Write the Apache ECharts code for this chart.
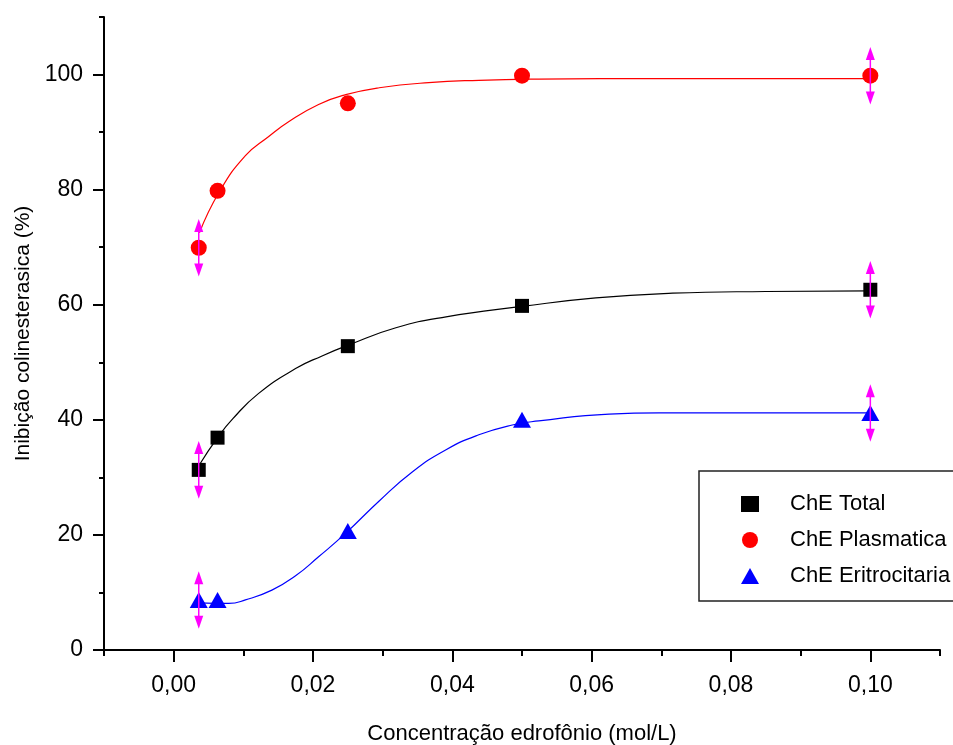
<!DOCTYPE html>
<html>
<head>
<meta charset="utf-8">
<script src="https://cdn.jsdelivr.net/npm/echarts@6/dist/echarts.min.js"></script>
<style>html,body{margin:0;padding:0;background:#fff;}#c{width:953px;height:745px;}</style>
</head>
<body>
<div id="c"></div>
<script>
// Measured points
const xData = [0.0036, 0.0063, 0.025, 0.05, 0.1];
const totalY = [31.3, 36.9, 52.8, 59.8, 62.6];
const plasmaY = [69.9, 79.8, 95.0, 99.8, 99.8];
const eritroY = [8.7, 8.7, 20.7, 40.0, 41.2];
// Error bar half-widths (null = no bar)
const totalErr = [5, null, null, null, 5];
const plasmaErr = [5, null, null, null, 5];
const eritroErr = [5, null, null, null, 5];
// Fitted curves
const totalFitX = [0.0037, 0.0063, 0.0085, 0.0122, 0.0175, 0.0213, 0.0251, 0.0319, 0.0391, 0.05, 0.0606, 0.0716, 0.085, 0.1];
const totalFitY = [32.2, 36.9, 40.2, 44.6, 48.9, 51.1, 53.0, 56.0, 57.9, 59.7, 61.2, 62.0, 62.3, 62.4];
const plasmaFitX = [0.0037, 0.0065, 0.0103, 0.0136, 0.0165, 0.0208, 0.0247, 0.0295, 0.0366, 0.0438, 0.0524, 0.07, 0.1];
const plasmaFitY = [72.5, 79.5, 85.9, 89.2, 91.8, 94.8, 96.5, 97.7, 98.6, 99.0, 99.2, 99.3, 99.3];
const eritroFitX = [0.0037, 0.0079, 0.0103, 0.0141, 0.0175, 0.0208, 0.0247, 0.0295, 0.0342, 0.0391, 0.0438, 0.0486, 0.0524, 0.0625, 0.0697, 0.1];
const eritroFitY = [8.2, 8.1, 8.7, 10.4, 12.9, 16.2, 20.3, 25.9, 30.9, 34.8, 37.4, 39.1, 39.8, 41.0, 41.2, 41.2];
// Axis ticks
const xMajorTicks = [0, 0.02, 0.04, 0.06, 0.08, 0.1];
const xMinorTicks = [-0.01, 0.01, 0.03, 0.05, 0.07, 0.09, 0.11];
const yMajorTicks = [0, 20, 40, 60, 80, 100];
const yMinorTicks = [10, 30, 50, 70, 90, 110];
const seriesNames = ['ChE Total', 'ChE Plasmatica', 'ChE Eritrocitaria'];

const FONT = '"Liberation Sans", Arial, sans-serif';
const zip = (xs, ys) => xs.map((x, i) => [x, ys[i]]);
const errData = [];
[[totalY, totalErr], [plasmaY, plasmaErr], [eritroY, eritroErr]].forEach(([ys, es]) => {
  ys.forEach((y, i) => { if (es[i] != null) errData.push([xData[i], y, es[i]]); });
});

function renderErr(params, api) {
  const x = api.value(0), y = api.value(1), e = api.value(2);
  const top = api.coord([x, y + e]);
  const bot = api.coord([x, y - e]);
  const L = 13, W = 4.5;
  const c = '#FF00FF';
  return {
    type: 'group',
    children: [
      { type: 'line', shape: { x1: top[0], y1: top[1] + 6, x2: bot[0], y2: bot[1] - 6 }, style: { stroke: c, lineWidth: 1.5 } },
      { type: 'polygon', shape: { points: [[top[0], top[1]], [top[0] - W, top[1] + L], [top[0] + W, top[1] + L]] }, style: { fill: c } },
      { type: 'polygon', shape: { points: [[bot[0], bot[1]], [bot[0] - W, bot[1] - L], [bot[0] + W, bot[1] - L]] }, style: { fill: c } }
    ]
  };
}

const chart = echarts.init(document.getElementById('c'), null, { renderer: 'canvas' });
const lbl = v => v.toFixed(2).replace('.', ',');
chart.setOption({
  animation: false,
  backgroundColor: '#fff',
  grid: { left: 104, right: 13, top: 17, bottom: 95, containLabel: false, outerBoundsMode: 'none' },
  xAxis: [{
    type: 'value', min: -0.01, max: 0.11, interval: 0.01,
    name: 'Concentração edrofônio (mol/L)', nameLocation: 'middle', nameGap: 73,
    nameTextStyle: { fontFamily: FONT, fontSize: 22, color: '#000' },
    axisLine: { show: true, onZero: false, lineStyle: { color: '#000', width: 2 } },
    axisTick: { show: true, customValues: xMajorTicks, length: 12, lineStyle: { color: '#000', width: 2 } },
    axisLabel: { customValues: xMajorTicks, formatter: lbl, fontFamily: FONT, fontSize: 23, color: '#000', margin: 24 },
    splitLine: { show: false }
  }, {
    type: 'value', min: -0.01, max: 0.11, interval: 0.01, position: 'bottom',
    axisLine: { show: false, onZero: false },
    axisTick: { show: true, customValues: xMinorTicks, length: 6, lineStyle: { color: '#000', width: 2 } },
    axisLabel: { show: false },
    splitLine: { show: false }
  }],
  yAxis: [{
    type: 'value', min: 0, max: 110, interval: 10,
    name: 'Inibição colinesterasica (%)', nameLocation: 'middle', nameGap: 70,
    nameTextStyle: { fontFamily: FONT, fontSize: 21, color: '#000' },
    axisLine: { show: true, onZero: false, lineStyle: { color: '#000', width: 2 } },
    axisTick: { show: true, customValues: yMajorTicks, length: 11, lineStyle: { color: '#000', width: 2 } },
    axisLabel: { customValues: yMajorTicks, fontFamily: FONT, fontSize: 23, color: '#000', margin: 21 },
    splitLine: { show: false }
  }, {
    type: 'value', min: 0, max: 110, interval: 10, position: 'left',
    axisLine: { show: false, onZero: false },
    axisTick: { show: true, customValues: yMinorTicks, length: 5, lineStyle: { color: '#000', width: 2 } },
    axisLabel: { show: false },
    splitLine: { show: false }
  }],
  legend: {
    data: seriesNames, orient: 'vertical', left: 736, top: 488,
    itemWidth: 18, itemHeight: 16, itemGap: 14, selectedMode: false,
    textStyle: { fontFamily: FONT, fontSize: 22, color: '#000', padding: [0, 0, 0, 26] }
  },
  graphic: [{
    type: 'rect', shape: { x: 699, y: 471, width: 270, height: 130 },
    style: { fill: 'none', stroke: '#222', lineWidth: 1.5 }, z: 1
  }],
  series: [
    { type: 'line', data: zip(totalFitX, totalFitY), smooth: true, showSymbol: false, symbol: 'none', lineStyle: { color: '#000', width: 1.2 }, z: 2, silent: true },
    { type: 'line', data: zip(plasmaFitX, plasmaFitY), smooth: true, showSymbol: false, symbol: 'none', lineStyle: { color: '#FF0000', width: 1.2 }, z: 2, silent: true },
    { type: 'line', data: zip(eritroFitX, eritroFitY), smooth: true, showSymbol: false, symbol: 'none', lineStyle: { color: '#0000FF', width: 1.2 }, z: 2, silent: true },
    { name: seriesNames[0], type: 'scatter', data: zip(xData, totalY), symbol: 'rect', symbolSize: 14, itemStyle: { color: '#000', opacity: 1 }, z: 3 },
    { name: seriesNames[1], type: 'scatter', data: zip(xData, plasmaY), symbol: 'circle', symbolSize: 16, itemStyle: { color: '#FF0000', opacity: 1 }, z: 3 },
    { name: seriesNames[2], type: 'scatter', data: zip(xData, eritroY), symbol: 'triangle', symbolSize: [18, 16], itemStyle: { color: '#0000FF', opacity: 1 }, z: 3 },
    { type: 'custom', data: errData, renderItem: renderErr, encode: { x: 0, y: 1 }, z: 4, silent: true }
  ]
});
</script>
</body>
</html>
